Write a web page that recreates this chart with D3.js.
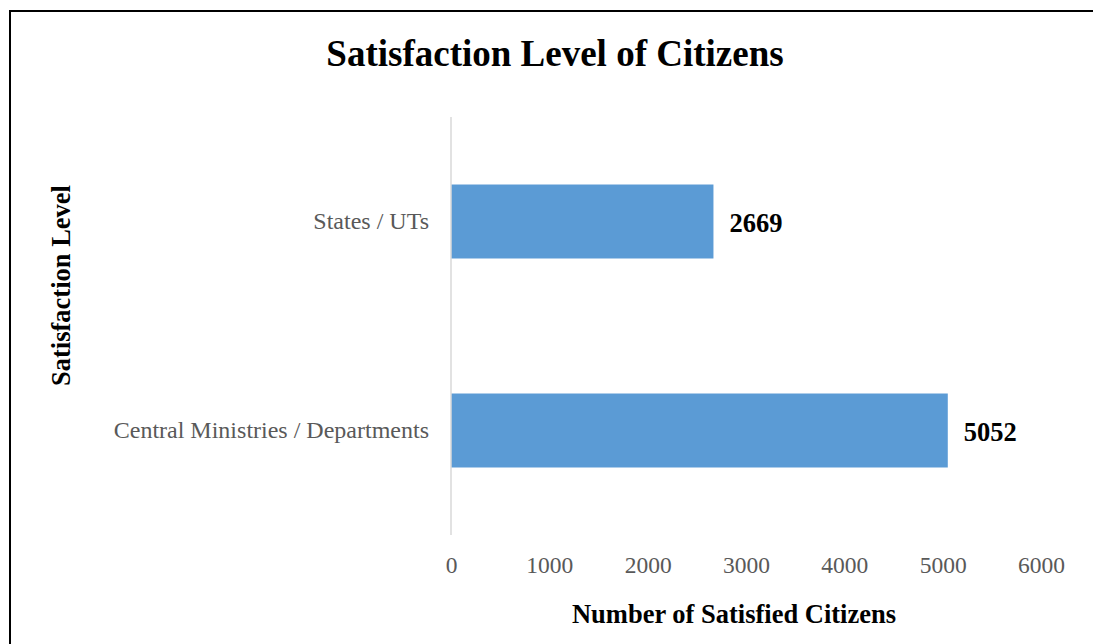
<!DOCTYPE html>
<html>
<head>
<meta charset="utf-8">
<script src="https://cdn.jsdelivr.net/npm/d3@7"></script>
<style>
  html, body { margin: 0; padding: 0; background: #fff; overflow: hidden; }
  svg { display: block; }
  text { font-family: "Liberation Serif", "Times New Roman", serif; }
</style>
</head>
<body>
<svg id="chart" width="1093" height="644"></svg>
<script>
// ---- data ----
const categories = ["States / UTs", "Central Ministries / Departments"];
const values = [2669, 5052];
const xTicks = [0, 1000, 2000, 3000, 4000, 5000, 6000];
const title = "Satisfaction Level of Citizens";
const xTitle = "Number of Satisfied Citizens";
const yTitle = "Satisfaction Level";

const data = categories.map((c, i) => ({ category: c, value: values[i] }));

const svg = d3.select("#chart");

// outer frame (top and left edges only visible)
svg.append("line")
  .attr("x1", 9).attr("x2", 1093).attr("y1", 11).attr("y2", 11)
  .attr("stroke", "#000").attr("stroke-width", 2);
svg.append("line")
  .attr("x1", 10).attr("x2", 10).attr("y1", 10).attr("y2", 644)
  .attr("stroke", "#000").attr("stroke-width", 2);

const x = d3.scaleLinear().domain([0, 6000]).range([451, 1041]);
const y = d3.scaleBand().domain(categories).range([117, 535])
  .paddingInner(0.646).paddingOuter(0.323);

// bars
svg.append("g").selectAll("rect")
  .data(data).join("rect")
  .attr("x", x(0))
  .attr("y", d => y(d.category))
  .attr("width", d => x(d.value) - x(0))
  .attr("height", y.bandwidth())
  .attr("fill", "#5B9BD5");

// vertical category axis line
svg.append("line")
  .attr("x1", x(0)).attr("x2", x(0))
  .attr("y1", 117).attr("y2", 535)
  .attr("stroke", "#d9d9d9").attr("stroke-width", 1.5);

// category labels
const yAxis = d3.axisLeft(y).tickSize(0).tickPadding(22);
const gy = svg.append("g").attr("transform", `translate(${x(0)},0)`).call(yAxis);
gy.select(".domain").remove();
gy.selectAll("text")
  .attr("fill", "#595959")
  .attr("font-size", "24px")
  .attr("font-family", "Liberation Serif, Times New Roman, serif")
  .attr("dy", "0.33em");

// x tick labels
const xAxis = d3.axisBottom(x).tickValues(xTicks).tickSize(0).tickPadding(0)
  .tickFormat(d3.format("d"));
const gx = svg.append("g").attr("transform", "translate(0,573)").call(xAxis);
gx.select(".domain").remove();
gx.selectAll("text")
  .attr("fill", "#595959")
  .attr("font-size", "23.5px")
  .attr("font-family", "Liberation Serif, Times New Roman, serif")
  .attr("dy", 0)
  .attr("y", 0);

// value labels
svg.append("g").selectAll("text")
  .data(data).join("text")
  .attr("x", d => x(d.value) + 16)
  .attr("y", d => y(d.category) + y.bandwidth() / 2)
  .attr("dy", "0.4em")
  .attr("font-size", "26.5px")
  .attr("font-weight", "bold")
  .attr("fill", "#000")
  .text(d => d.value);

// title
svg.append("text")
  .attr("x", 555).attr("y", 66)
  .attr("text-anchor", "middle")
  .attr("font-size", "37px")
  .attr("font-weight", "bold")
  .attr("fill", "#000")
  .text(title);

// x axis title
svg.append("text")
  .attr("x", 734).attr("y", 623)
  .attr("text-anchor", "middle")
  .attr("font-size", "26.5px")
  .attr("font-weight", "bold")
  .attr("fill", "#000")
  .text(xTitle);

// y axis title
svg.append("text")
  .attr("transform", "translate(70,285.5) rotate(-90)")
  .attr("text-anchor", "middle")
  .attr("font-size", "26.5px")
  .attr("font-weight", "bold")
  .attr("fill", "#000")
  .text(yTitle);
</script>
</body>
</html>
